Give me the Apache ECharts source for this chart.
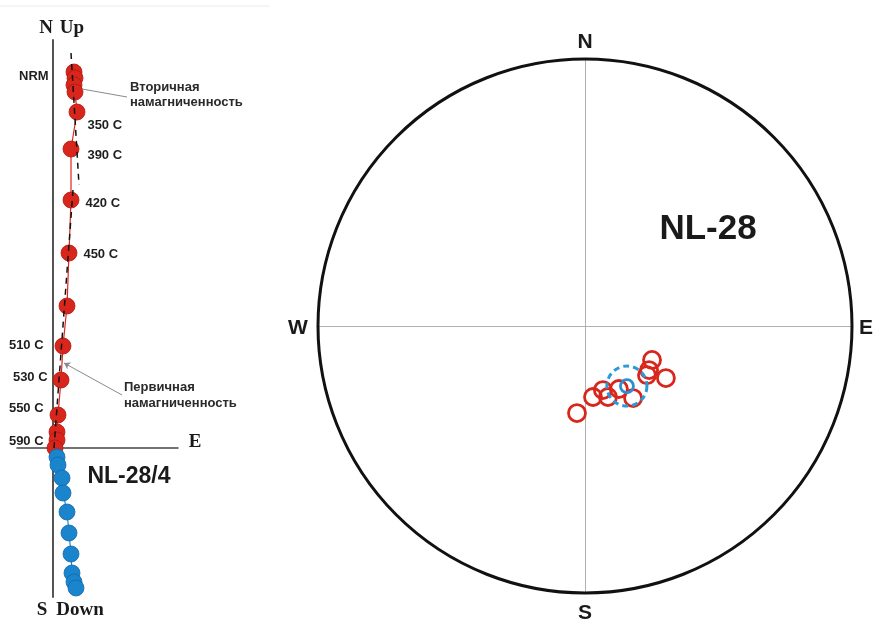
<!DOCTYPE html>
<html>
<head>
<meta charset="utf-8">
<script src="https://cdn.jsdelivr.net/npm/echarts@6/dist/echarts.min.js"></script>
<style>
  html, body { margin: 0; padding: 0; background: #fff; }
  #chart { width: 874px; height: 622px; }
</style>
</head>
<body>
<div id="chart"></div>
<script>
// Zijderveld diagram (NL-28/4), arbitrary units
const redX = [2.1, 2.2, 2.1, 2.2, 2.4, 1.8, 1.8, 1.6, 1.4, 1.0, 0.8, 0.5, 0.4, 0.4, 0.2]
const redY = [37.6, 37.0, 36.3, 35.6, 33.6, 29.9, 24.8, 19.5, 14.2, 10.2, 6.8, 3.3, 1.6, 0.8, 0.0]
const redLabels = ['NRM', '', '', '', '350 C', '390 C', '420 C', '450 C', '', '510 C', '530 C', '550 C', '', '590 C', '']
const blueX = [0.4, 0.5, 0.9, 1.0, 1.4, 1.6, 1.8, 1.9, 2.1, 2.3]
const blueY = [-0.9, -1.7, -3.0, -4.5, -6.4, -8.5, -10.6, -12.5, -13.4, -14.0]
const secondaryFit = [[1.8, 39.5], [2.6, 26.3]]
const primaryFit = [[2.0, 25.8], [0.1, 0.0]]

// stereonet NL-28 (projected coordinates, unit circle)
const siteX = [-0.030, 0.030, 0.067, 0.086, 0.127, 0.180, 0.232, 0.240, 0.251, 0.303]
const siteY = [-0.326, -0.266, -0.240, -0.266, -0.236, -0.270, -0.184, -0.165, -0.127, -0.195]
const meanDir = [0.157, -0.225]
const alpha95 = 0.075

const RED = '#d9261c'
const BLUE = '#1a84cc'
const FONT = '"Liberation Sans", Arial, sans-serif'
const SERIF = '"Liberation Serif", "Times New Roman", serif'

// where each temperature label sits relative to its point
const labelPlace = {
  'NRM': ['left', [-12, 4]],
  '350 C': ['right', [-3, 13]],
  '390 C': ['right', [3, 6]],
  '420 C': ['right', [1, 3]],
  '450 C': ['right', [1, 1]],
  '510 C': ['left', [-6, -1]],
  '530 C': ['left', [0, -3]],
  '550 C': ['left', [-1, -7]],
  '590 C': ['left', [0, 1]]
}

const redData = redX.map((x, i) => {
  const txt = redLabels[i]
  const item = { value: [x, redY[i]] }
  if (txt) {
    item.label = {
      show: true,
      formatter: txt,
      position: labelPlace[txt][0],
      offset: labelPlace[txt][1],
      distance: 5,
      color: '#1e1e1e',
      fontSize: 13,
      fontWeight: 'bold',
      fontFamily: FONT
    }
  }
  return item
})

const chart = echarts.init(document.getElementById('chart'), null, { renderer: 'canvas' })

const hiddenAxis = {
  axisTick: { show: false },
  axisLabel: { show: false },
  splitLine: { show: false }
}

function circleItem(stroke, width, dash) {
  return function (params, api) {
    const c = api.coord([api.value(0), api.value(1)])
    const r = api.size([api.value(2), 0])[0]
    return {
      type: 'circle',
      shape: { cx: c[0], cy: c[1], r: r },
      style: { fill: 'none', stroke: stroke, lineWidth: width, lineDash: dash }
    }
  }
}

function txt(text, x, y, size, family, extra) {
  return Object.assign({
    type: 'text',
    x: x,
    y: y,
    style: {
      text: text,
      fill: '#1a1a1a',
      font: 'bold ' + size + 'px ' + family,
      align: 'center',
      verticalAlign: 'middle'
    }
  }, extra || {})
}

const option = {
  animation: false,
  backgroundColor: '#fff',
  grid: [
    { left: 17, top: 40, width: 161, height: 557 },
    { left: 318, top: 59, width: 534, height: 534 }
  ],
  xAxis: [
    Object.assign({ type: 'value', gridIndex: 0, min: -3.6, max: 12.5,
      axisLine: { onZero: true, lineStyle: { color: '#444', width: 1.5 } } }, hiddenAxis),
    Object.assign({ type: 'value', gridIndex: 1, min: -1, max: 1,
      axisLine: { onZero: true, lineStyle: { color: '#b0b0b0', width: 1 } } }, hiddenAxis)
  ],
  yAxis: [
    Object.assign({ type: 'value', gridIndex: 0, min: -14.9, max: 40.8,
      axisLine: { onZero: true, lineStyle: { color: '#555', width: 2 } } }, hiddenAxis),
    Object.assign({ type: 'value', gridIndex: 1, min: -1, max: 1,
      axisLine: { onZero: true, lineStyle: { color: '#b0b0b0', width: 1 } } }, hiddenAxis)
  ],
  series: [
    {
      name: 'secondary fit',
      type: 'line',
      xAxisIndex: 0, yAxisIndex: 0,
      data: secondaryFit,
      symbol: 'none',
      lineStyle: { color: '#111', width: 1.5, type: [6, 5] },
      z: 4
    },
    {
      name: 'vertical',
      type: 'line',
      xAxisIndex: 0, yAxisIndex: 0,
      data: redData,
      symbol: 'circle',
      symbolSize: 16,
      lineStyle: { color: RED, width: 1.2 },
      itemStyle: { color: RED, borderColor: '#b3160f', borderWidth: 0.8 },
      z: 3,
      markLine: {
        silent: true,
        symbol: ['none', 'none'],
        label: { show: false },
        lineStyle: { color: '#8a8a8a', width: 1, type: 'solid' },
        data: [
          [{ coord: [2.9, 35.9] }, { coord: [7.4, 35.1] }],
          [{ coord: [6.9, 5.3], symbol: 'none' }, { coord: [1.1, 8.5], symbol: 'arrow', symbolSize: 6 }]
        ]
      }
    },
    {
      name: 'primary fit',
      type: 'line',
      xAxisIndex: 0, yAxisIndex: 0,
      data: primaryFit,
      symbol: 'none',
      lineStyle: { color: '#111', width: 1.5, type: [6, 5] },
      z: 4
    },
    {
      name: 'horizontal',
      type: 'line',
      xAxisIndex: 0, yAxisIndex: 0,
      data: blueX.map((x, i) => [x, blueY[i]]),
      symbol: 'circle',
      symbolSize: 16,
      lineStyle: { color: BLUE, width: 1.2 },
      itemStyle: { color: BLUE, borderColor: '#136aa8', borderWidth: 0.8 },
      z: 5
    },
    {
      name: 'primitive',
      type: 'custom',
      xAxisIndex: 1, yAxisIndex: 1,
      data: [[0, 0, 1]],
      renderItem: circleItem('#111', 3),
      clip: false,
      silent: true,
      z: 2
    },
    {
      name: 'samples',
      type: 'scatter',
      xAxisIndex: 1, yAxisIndex: 1,
      data: siteX.map((x, i) => [x, siteY[i]]),
      symbol: 'circle',
      symbolSize: 17,
      itemStyle: { color: 'rgba(255,255,255,0)', borderColor: RED, borderWidth: 2.8, opacity: 1 },
      z: 3
    },
    {
      name: 'a95',
      type: 'custom',
      xAxisIndex: 1, yAxisIndex: 1,
      data: [[meanDir[0], meanDir[1], alpha95]],
      renderItem: circleItem('#2a9ad8', 3, [6, 4]),
      silent: true,
      z: 4
    },
    {
      name: 'mean',
      type: 'scatter',
      xAxisIndex: 1, yAxisIndex: 1,
      data: [meanDir],
      symbol: 'circle',
      symbolSize: 13,
      itemStyle: { color: 'rgba(255,255,255,0)', borderColor: '#2a8fd0', borderWidth: 2.8, opacity: 1 },
      z: 5
    }
  ],
  graphic: [
    { type: 'line', shape: { x1: 0, y1: 6, x2: 270, y2: 6 }, style: { stroke: '#ececec', lineWidth: 1 } },
    txt('N', 46, 28, 19, SERIF),
    txt('Up', 72, 28, 19, SERIF),
    txt('S', 42, 610, 19, SERIF),
    txt('Down', 80, 610, 19, SERIF),
    txt('E', 195, 442, 19, SERIF),
    txt('NL-28/4', 129, 477, 23, FONT),
    {
      type: 'text', x: 130, y: 80,
      style: { text: 'Вторичная\nнамагниченность', fill: '#2a2a2a', font: 'bold 13px ' + FONT, lineHeight: 15 }
    },
    {
      type: 'text', x: 124, y: 379,
      style: { text: 'Первичная\nнамагниченность', fill: '#2a2a2a', font: 'bold 13px ' + FONT, lineHeight: 16 }
    },
    txt('N', 585, 42, 21, FONT),
    txt('S', 585, 613, 21, FONT),
    txt('W', 298, 328, 21, FONT),
    txt('E', 866, 328, 21, FONT),
    txt('NL-28', 708, 229, 35, FONT)
  ]
}

chart.setOption(option)
</script>
</body>
</html>
